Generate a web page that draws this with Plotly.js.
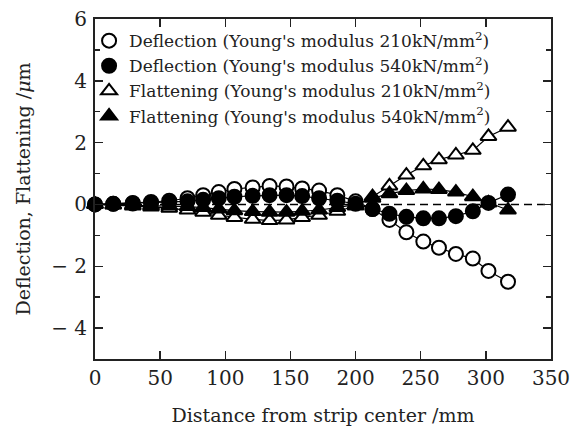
<!DOCTYPE html>
<html>
<head>
<meta charset="utf-8">
<script src="https://cdn.plot.ly/plotly-3.0.1.min.js"></script>
<style>html,body{margin:0;padding:0;background:#fff;}#chart{width:575px;height:427px;}</style>
</head>
<body>
<div id="chart"></div>
<script>
// Distance from strip center (mm)
const distance = [0, 14, 29, 43, 57, 71, 83, 95, 107, 121, 134, 147, 159, 172, 186, 200, 213, 226, 239, 252, 264, 277, 290, 302, 317];
// Deflection, Young's modulus 210 kN/mm2 (um)
const deflection210 = [0, 0.02, 0.05, 0.08, 0.12, 0.2, 0.3, 0.4, 0.5, 0.55, 0.6, 0.58, 0.52, 0.45, 0.3, 0.1, -0.15, -0.5, -0.9, -1.2, -1.4, -1.6, -1.75, -2.15, -2.5];
// Deflection, Young's modulus 540 kN/mm2 (um)
const deflection540 = [0, 0.02, 0.03, 0.05, 0.07, 0.1, 0.15, 0.2, 0.25, 0.28, 0.3, 0.3, 0.27, 0.2, 0.12, 0.02, -0.15, -0.3, -0.4, -0.45, -0.45, -0.38, -0.22, 0.05, 0.32];
// Flattening, Young's modulus 210 kN/mm2 (um)
const flattening210 = [0, -0.02, -0.05, -0.08, -0.12, -0.18, -0.25, -0.35, -0.42, -0.48, -0.52, -0.5, -0.42, -0.35, -0.22, -0.05, 0.25, 0.6, 0.95, 1.25, 1.45, 1.6, 1.75, 2.2, 2.5];
// Flattening, Young's modulus 540 kN/mm2 (um)
const flattening540 = [0, -0.01, -0.02, -0.03, -0.05, -0.07, -0.1, -0.15, -0.2, -0.23, -0.25, -0.25, -0.22, -0.18, -0.1, 0, 0.2, 0.35, 0.45, 0.5, 0.48, 0.4, 0.25, 0.05, -0.18];

const seriesNames = [
  "Deflection (Young's modulus 210kN/mm<sup>2</sup>)",
  "Deflection (Young's modulus 540kN/mm<sup>2</sup>)",
  "Flattening (Young's modulus 210kN/mm<sup>2</sup>)",
  "Flattening (Young's modulus 540kN/mm<sup>2</sup>)"
];
const yTickVals = [-4, -2, 0, 2, 4, 6];
const yTickText = ['\u2212 4', '\u2212 2', '0', '2', '4', '6'];
const xTickVals = [0, 50, 100, 150, 200, 250, 300, 350];

const serif = 'DejaVu Serif, serif';
const series = [
  {y: deflection210, name: seriesNames[0], symbol: 'circle', fill: '#fff'},
  {y: deflection540, name: seriesNames[1], symbol: 'circle', fill: '#000'},
  {y: flattening210, name: seriesNames[2], symbol: 'triangle-up', fill: '#fff'},
  {y: flattening540, name: seriesNames[3], symbol: 'triangle-up', fill: '#000'}
];
const lineTraces = series.map(s => ({
  x: distance, y: s.y, type: 'scatter', mode: 'lines', showlegend: false, hoverinfo: 'skip',
  line: {color: '#000', width: 1.2}, cliponaxis: false
}));
const markerTraces = series.map(s => ({
  x: distance, y: s.y, name: s.name, type: 'scatter', mode: 'markers',
  marker: {symbol: s.symbol, size: 14, color: s.fill, line: {color: '#000', width: 2}},
  cliponaxis: false
}));

const layout = {
  width: 575, height: 427,
  margin: {l: 95, r: 24, t: 19, b: 68},
  paper_bgcolor: '#fff', plot_bgcolor: '#fff',
  font: {family: serif, color: '#222', size: 20},
  showlegend: true,
  legend: {x: -0.013, y: 0.988, xanchor: 'left', yanchor: 'top', bgcolor: 'rgba(0,0,0,0)',
           font: {family: serif, size: 17, color: '#222'}, itemwidth: 30, tracegroupgap: 0},
  xaxis: {
    range: [0, 350], tickvals: xTickVals, ticks: 'inside', ticklen: 8, tickwidth: 1.5, tickcolor: '#222',
    showline: true, linecolor: '#222', linewidth: 2, mirror: 'ticks', showgrid: false, zeroline: false,
    tickfont: {family: serif, size: 20, color: '#222'},
    title: {text: 'Distance from strip center /mm', font: {family: serif, size: 19, color: '#222'}, standoff: 20}
  },
  yaxis: {
    range: [-5, 6], tickvals: yTickVals, ticktext: yTickText, ticks: 'inside', ticklen: 8, tickwidth: 1.5, tickcolor: '#222',
    minor: {dtick: 1, ticks: 'inside', ticklen: 5, tickwidth: 1.5, tickcolor: '#222', showgrid: false},
    showline: true, linecolor: '#222', linewidth: 2, mirror: 'ticks', showgrid: false, zeroline: false,
    tickfont: {family: serif, size: 20, color: '#222'}, ticklabelstandoff: 2,
    title: {text: 'Deflection, Flattening /<i>\u03bc</i>m', font: {family: serif, size: 19, color: '#222'}, standoff: 16}
  },
  shapes: [{type: 'line', xref: 'paper', x0: 0, x1: 1, yref: 'y', y0: 0, y1: 0,
            line: {color: '#000', width: 1.5, dash: '8px,5px'}, layer: 'below'}]
};
Plotly.newPlot('chart', lineTraces.concat(markerTraces), layout, {displayModeBar: false, staticPlot: true});
</script>
</body>
</html>
